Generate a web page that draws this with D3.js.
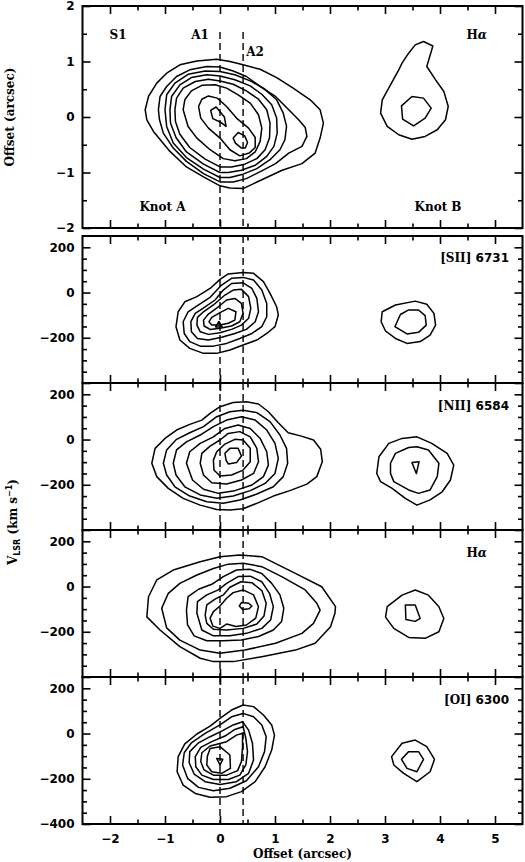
<!DOCTYPE html>
<html>
<head>
<meta charset="utf-8">
<script src="https://cdn.jsdelivr.net/npm/d3@7"></script>
<style>
  html, body { margin: 0; padding: 0; background: #fff; }
  svg { display: block; }
  .tick text { font-family: 'DejaVu Sans', sans-serif; font-weight: bold; font-size: 12px; fill: #000; }
  .tick line { stroke: #000; stroke-width: 1.6; }
  .lbl { font-family: 'DejaVu Serif', serif; font-weight: bold; font-size: 12px; fill: #000; }
  .num { font-family: 'DejaVu Sans', sans-serif; }
</style>
</head>
<body>
<svg id="chart" width="525" height="862"></svg>
<script>
// slit positions A1 / A2 (arcsec)
const slitOffsets = [0, 0.42];

// tick values
const xMajor = [-2, -1, 0, 1, 2, 3, 4, 5];
const xMinor = [-1.5, -0.5, 0.5, 1.5, 2.5, 3.5, 4.5];
const offMajor = [-2, -1, 0, 1, 2];
const offMinor = [-1.5, -0.5, 0.5, 1.5];
const velMajor = [-400, -200, 0, 200];
const velMinor = [-350, -300, -250, -150, -100, -50, 50, 100, 150];

// H-alpha image, offset vs offset (arcsec)
const haImageKnotA = [
  [[-1.36,0.13],[-1.30,0.37],[-1.15,0.61],[-0.97,0.79],[-0.73,0.94],[-0.42,1.01],[-0.06,1.04],[0.18,1.00],[0.42,0.94],[0.73,0.86],[1.03,0.71],[1.33,0.52],[1.64,0.31],[1.82,0.13],[1.88,-0.11],[1.82,-0.38],[1.73,-0.65],[1.49,-0.84],[1.13,-0.96],[0.76,-1.13],[0.42,-1.29],[0.18,-1.28],[0.00,-1.24],[-0.30,-1.08],[-0.61,-0.90],[-0.91,-0.62],[-1.21,-0.26],[-1.33,-0.05]],
  [[-1.12,0.13],[-1.09,0.37],[-0.97,0.55],[-0.79,0.73],[-0.55,0.85],[-0.24,0.91],[0.00,0.90],[0.24,0.83],[0.48,0.73],[0.76,0.53],[1.01,0.37],[1.25,0.13],[1.43,-0.05],[1.55,-0.19],[1.58,-0.35],[1.49,-0.53],[1.25,-0.65],[1.01,-0.84],[0.76,-0.97],[0.48,-1.11],[0.24,-1.17],[0.00,-1.17],[-0.30,-1.02],[-0.61,-0.80],[-0.85,-0.56],[-1.03,-0.29],[-1.10,-0.05]],
  [[-1.00,0.13],[-0.97,0.40],[-0.82,0.61],[-0.58,0.77],[-0.27,0.83],[0.00,0.82],[0.27,0.76],[0.55,0.65],[0.79,0.52],[1.03,0.31],[1.15,0.07],[1.21,-0.17],[1.18,-0.41],[1.09,-0.59],[0.91,-0.77],[0.67,-0.93],[0.42,-1.03],[0.18,-1.09],[0.00,-1.09],[-0.30,-0.94],[-0.61,-0.73],[-0.85,-0.47],[-0.97,-0.17]],
  [[-0.91,0.13],[-0.88,0.37],[-0.73,0.58],[-0.52,0.71],[-0.24,0.76],[0.00,0.74],[0.27,0.67],[0.55,0.56],[0.76,0.41],[0.94,0.22],[1.03,-0.02],[1.04,-0.29],[0.98,-0.53],[0.85,-0.71],[0.64,-0.87],[0.39,-0.96],[0.15,-1.00],[0.00,-1.00],[-0.30,-0.85],[-0.61,-0.63],[-0.80,-0.37],[-0.90,-0.11]],
  [[-0.82,0.13],[-0.79,0.34],[-0.67,0.52],[-0.45,0.64],[-0.21,0.68],[0.00,0.65],[0.24,0.59],[0.48,0.47],[0.70,0.32],[0.85,0.13],[0.91,-0.11],[0.90,-0.38],[0.82,-0.59],[0.67,-0.75],[0.45,-0.85],[0.21,-0.90],[0.00,-0.90],[-0.27,-0.76],[-0.55,-0.55],[-0.73,-0.31],[-0.81,-0.08]],
  [[-0.67,0.13],[-0.64,0.31],[-0.52,0.47],[-0.33,0.57],[-0.09,0.58],[0.12,0.52],[0.33,0.40],[0.55,0.25],[0.70,0.04],[0.76,-0.20],[0.73,-0.44],[0.64,-0.63],[0.48,-0.75],[0.27,-0.79],[0.06,-0.75],[-0.18,-0.59],[-0.42,-0.38],[-0.58,-0.17]],
  [[-0.39,0.19],[-0.33,0.32],[-0.21,0.38],[-0.05,0.34],[0.12,0.19],[0.30,-0.02],[0.52,-0.20],[0.64,-0.37],[0.64,-0.55],[0.53,-0.65],[0.36,-0.70],[0.18,-0.59],[0.00,-0.38],[-0.21,-0.20],[-0.35,-0.02]],
  [[-0.17,0.12],[-0.07,0.18],[0.08,0.00],[0.11,-0.17],[0.02,-0.10],[-0.13,-0.03]],
  [[0.24,-0.38],[0.33,-0.28],[0.45,-0.34],[0.50,-0.46],[0.46,-0.56],[0.39,-0.56],[0.28,-0.47]]
];
const haImageKnotB = [
  [[3.70,1.36],[3.87,1.28],[3.76,0.91],[3.92,0.67],[4.07,0.46],[4.15,0.19],[4.10,-0.05],[3.95,-0.23],[3.73,-0.35],[3.49,-0.40],[3.25,-0.32],[3.04,-0.17],[2.92,0.07],[2.95,0.31],[3.10,0.58],[3.25,0.85],[3.31,0.97],[3.43,1.15],[3.55,1.30]],
  [[3.49,0.37],[3.70,0.34],[3.84,0.16],[3.73,-0.02],[3.52,-0.16],[3.32,-0.04],[3.30,0.20]]
];

// position-velocity diagrams: offset (arcsec), V_LSR (km/s)
const siiKnotA = [
  [[0.00,58],[0.15,82],[0.42,89],[0.61,85],[0.79,48],[0.91,-4],[1.03,-63],[1.06,-99],[1.00,-151],[0.85,-181],[0.67,-210],[0.42,-232],[0.18,-254],[-0.06,-269],[-0.30,-269],[-0.55,-247],[-0.73,-210],[-0.80,-151],[-0.76,-85],[-0.64,-41],[-0.42,-18],[-0.18,18]],
  [[0.03,33],[0.21,63],[0.42,67],[0.61,55],[0.76,11],[0.85,-48],[0.85,-107],[0.76,-151],[0.58,-181],[0.36,-203],[0.12,-225],[-0.12,-237],[-0.36,-237],[-0.55,-217],[-0.65,-181],[-0.67,-129],[-0.58,-85],[-0.39,-55],[-0.18,-21]],
  [[0.06,11],[0.21,40],[0.42,43],[0.58,18],[0.67,-26],[0.70,-85],[0.64,-129],[0.48,-163],[0.27,-181],[0.03,-198],[-0.21,-210],[-0.41,-203],[-0.52,-173],[-0.53,-129],[-0.45,-92],[-0.27,-63],[-0.09,-33]],
  [[0.09,-11],[0.24,11],[0.39,14],[0.52,-18],[0.56,-70],[0.52,-114],[0.39,-144],[0.21,-163],[0.00,-178],[-0.21,-185],[-0.36,-173],[-0.42,-144],[-0.41,-110],[-0.30,-85],[-0.12,-55]],
  [[0.12,-33],[0.27,-26],[0.39,-48],[0.42,-92],[0.36,-129],[0.21,-148],[0.00,-158],[-0.18,-163],[-0.29,-148],[-0.30,-122],[-0.21,-95],[-0.03,-63]],
  [[0.15,-70],[0.29,-85],[0.27,-122],[0.15,-136],[0.00,-144],[-0.15,-144],[-0.20,-129],[-0.15,-110],[0.00,-89]],
  [[-0.02,-128],[0.04,-152],[-0.08,-152]]
];
const siiKnotB = [
  [[2.95,-85],[3.19,-55],[3.55,-38],[3.76,-52],[3.89,-92],[3.92,-144],[3.82,-188],[3.64,-217],[3.40,-225],[3.19,-203],[3.01,-170],[2.93,-129]],
  [[3.28,-97],[3.43,-77],[3.61,-77],[3.73,-102],[3.75,-144],[3.61,-176],[3.40,-183],[3.18,-151]]
];

const niiKnotA = [
  [[-1.24,-105],[-1.18,-39],[-1.00,5],[-0.79,42],[-0.55,67],[-0.33,86],[-0.18,116],[0.00,145],[0.24,164],[0.48,167],[0.70,157],[0.88,123],[1.06,74],[1.24,30],[1.48,15],[1.70,-2],[1.83,-43],[1.86,-98],[1.76,-164],[1.58,-197],[1.27,-226],[0.97,-250],[0.67,-282],[0.42,-306],[0.18,-312],[-0.06,-309],[-0.36,-290],[-0.67,-260],[-0.94,-216],[-1.15,-164]],
  [[-1.03,-105],[-0.97,-46],[-0.79,1],[-0.55,30],[-0.30,57],[-0.06,101],[0.18,123],[0.42,130],[0.67,119],[0.91,79],[1.09,20],[1.21,-39],[1.23,-105],[1.15,-164],[0.97,-209],[0.67,-241],[0.36,-267],[0.06,-282],[-0.24,-275],[-0.55,-250],[-0.82,-209],[-0.97,-157]],
  [[-0.85,-105],[-0.79,-46],[-0.61,-10],[-0.36,20],[-0.12,57],[0.12,86],[0.39,101],[0.64,86],[0.85,42],[1.00,-17],[1.06,-83],[1.00,-150],[0.82,-194],[0.55,-226],[0.24,-250],[-0.06,-260],[-0.36,-245],[-0.64,-209],[-0.80,-157]],
  [[-0.61,-105],[-0.55,-54],[-0.36,-17],[-0.12,12],[0.09,49],[0.33,64],[0.55,49],[0.73,5],[0.85,-54],[0.88,-113],[0.79,-164],[0.58,-201],[0.27,-226],[-0.03,-238],[-0.30,-220],[-0.50,-179]],
  [[-0.36,-105],[-0.33,-61],[-0.18,-29],[0.00,-2],[0.15,27],[0.36,35],[0.55,12],[0.67,-39],[0.70,-98],[0.61,-150],[0.39,-179],[0.12,-197],[-0.15,-191],[-0.30,-157]],
  [[-0.12,-91],[-0.06,-54],[0.09,-20],[0.27,1],[0.42,-2],[0.55,-39],[0.55,-98],[0.42,-135],[0.21,-157],[0.00,-161],[-0.11,-135]],
  [[0.09,-61],[0.18,-39],[0.33,-39],[0.39,-73],[0.30,-102],[0.15,-108],[0.11,-91]]
];
const niiKnotB = [
  [[2.85,-150],[2.89,-76],[3.07,-17],[3.31,5],[3.58,12],[3.85,-17],[4.13,-61],[4.25,-113],[4.19,-179],[4.04,-231],[3.82,-267],[3.58,-290],[3.37,-260],[3.13,-216],[2.92,-186]],
  [[3.10,-105],[3.19,-61],[3.43,-35],[3.58,-32],[3.79,-46],[3.98,-105],[3.95,-164],[3.82,-223],[3.61,-238],[3.43,-223],[3.16,-186],[3.10,-150]],
  [[3.49,-102],[3.62,-98],[3.57,-150]]
];

const haKnotA = [
  [[-1.33,-134],[-1.30,-45],[-1.15,29],[-0.85,73],[-0.36,110],[0.00,132],[0.36,139],[0.76,132],[1.37,58],[1.85,-1],[2.10,-89],[2.09,-118],[2.01,-178],[1.73,-251],[1.37,-281],[0.76,-310],[0.24,-332],[-0.12,-332],[-0.36,-317],[-0.73,-266],[-1.09,-192]],
  [[-1.06,-96],[-0.94,-30],[-0.73,14],[-0.42,51],[-0.12,80],[0.15,99],[0.42,103],[0.76,88],[1.13,43],[1.55,-15],[1.76,-74],[1.82,-104],[1.70,-163],[1.49,-207],[1.01,-251],[0.45,-281],[0.00,-295],[-0.36,-281],[-0.73,-237],[-0.97,-183]],
  [[-0.61,-104],[-0.58,-45],[-0.39,-12],[-0.15,10],[0.06,44],[0.30,73],[0.55,76],[0.76,58],[0.94,14],[1.09,-37],[1.16,-96],[1.12,-155],[0.97,-192],[0.70,-221],[0.39,-236],[0.06,-240],[-0.24,-240],[-0.47,-218],[-0.59,-170]],
  [[-0.42,-118],[-0.41,-67],[-0.24,-37],[-0.03,-15],[0.12,14],[0.33,44],[0.55,46],[0.76,21],[0.90,-30],[0.97,-89],[0.92,-148],[0.76,-185],[0.48,-207],[0.18,-218],[-0.12,-218],[-0.33,-192]],
  [[-0.27,-126],[-0.24,-81],[-0.09,-56],[0.06,-37],[0.18,-3],[0.38,21],[0.58,17],[0.76,-18],[0.84,-74],[0.80,-130],[0.67,-166],[0.42,-185],[0.12,-192],[-0.12,-189],[-0.24,-163]],
  [[-0.18,-140],[-0.12,-111],[0.00,-86],[0.12,-52],[0.24,-27],[0.42,-15],[0.61,-37],[0.70,-89],[0.65,-140],[0.48,-170],[0.29,-177],[0.12,-166],[0.00,-185],[-0.13,-175]],
  [[0.35,-86],[0.39,-71],[0.52,-74],[0.58,-86],[0.53,-98],[0.41,-101]]
];
const haKnotB = [
  [[3.04,-89],[3.31,-38],[3.55,-15],[3.79,-38],[3.98,-89],[4.07,-141],[3.98,-200],[3.73,-229],[3.43,-225],[3.16,-185],[3.01,-135]],
  [[3.37,-82],[3.55,-82],[3.64,-141],[3.55,-154],[3.38,-146]]
];

const oiKnotA = [
  [[0.00,67],[0.21,104],[0.42,126],[0.61,119],[0.79,82],[0.94,38],[0.99,-7],[0.94,-73],[0.82,-147],[0.64,-213],[0.39,-257],[0.12,-279],[-0.18,-282],[-0.45,-265],[-0.67,-228],[-0.78,-169],[-0.76,-102],[-0.64,-46],[-0.42,-2],[-0.18,33]],
  [[0.00,38],[0.21,74],[0.42,89],[0.61,74],[0.76,38],[0.84,-14],[0.81,-80],[0.70,-147],[0.48,-209],[0.18,-242],[-0.12,-253],[-0.39,-238],[-0.59,-198],[-0.68,-139],[-0.65,-85],[-0.52,-41],[-0.27,1]],
  [[0.03,11],[0.24,38],[0.41,52],[0.52,15],[0.59,-43],[0.61,-117],[0.52,-176],[0.30,-213],[0.00,-225],[-0.27,-213],[-0.47,-179],[-0.56,-129],[-0.55,-80],[-0.39,-41],[-0.18,-14]],
  [[0.09,-11],[0.27,18],[0.42,30],[0.47,-21],[0.50,-80],[0.47,-139],[0.36,-184],[0.15,-203],[-0.12,-203],[-0.33,-184],[-0.44,-147],[-0.45,-102],[-0.35,-61],[-0.15,-36]],
  [[0.12,-36],[0.30,-7],[0.41,1],[0.41,-58],[0.39,-124],[0.32,-164],[0.12,-184],[-0.12,-184],[-0.29,-161],[-0.35,-124],[-0.33,-85],[-0.18,-55]],
  [[-0.18,-66],[0.00,-58],[0.18,-95],[0.19,-154],[0.03,-176],[-0.15,-169],[-0.24,-139],[-0.23,-100]],
  [[-0.06,-110],[0.05,-114],[0.00,-139]]
];
const oiKnotB = [
  [[3.12,-102],[3.31,-43],[3.55,-29],[3.76,-58],[3.90,-114],[3.82,-169],[3.58,-213],[3.34,-176],[3.16,-139]],
  [[3.30,-114],[3.43,-80],[3.61,-80],[3.70,-114],[3.58,-169],[3.40,-154]]
];

const velLines = ['[SII]|6731', '[NII]|6584', 'Hα', '[OI]|6300'];
const velContours = [
  siiKnotA.concat(siiKnotB),
  niiKnotA.concat(niiKnotB),
  haKnotA.concat(haKnotB),
  oiKnotA.concat(oiKnotB)
];

// ---- layout ----
const svg = d3.select('#chart');
const left = 82.5, right = 522.5;
const x = d3.scaleLinear().domain([-2.5, 5.5]).range([left, right]);
const fmt = d3.format('d');

function drawFrame(y, y0, y1, major, minor, yLabels, xLabels) {
    const g = svg.append('g');

    g.append('g').attr('transform', `translate(${left},0)`)
        .call(d3.axisLeft(y).tickValues(major).tickSize(-8).tickPadding(8)
            .tickFormat(d => yLabels.includes(d) ? fmt(d) : ''));
    g.append('g').attr('transform', `translate(${left},0)`)
        .call(d3.axisLeft(y).tickValues(minor).tickSize(-4.5).tickFormat(''));
    g.append('g').attr('transform', `translate(${right},0)`)
        .call(d3.axisRight(y).tickValues(major).tickSize(-8).tickFormat(''));
    g.append('g').attr('transform', `translate(${right},0)`)
        .call(d3.axisRight(y).tickValues(minor).tickSize(-4.5).tickFormat(''));

    g.append('g').attr('transform', `translate(0,${y0})`)
        .call(d3.axisTop(x).tickValues(xMajor).tickSize(-8).tickFormat(''));
    g.append('g').attr('transform', `translate(0,${y0})`)
        .call(d3.axisTop(x).tickValues(xMinor).tickSize(-4.5).tickFormat(''));
    g.append('g').attr('transform', `translate(0,${y1})`)
        .call(d3.axisBottom(x).tickValues(xMajor).tickSize(-8).tickPadding(10)
            .tickFormat(d => xLabels ? fmt(d) : ''));
    g.append('g').attr('transform', `translate(0,${y1})`)
        .call(d3.axisBottom(x).tickValues(xMinor).tickSize(-4.5).tickFormat(''));

    g.selectAll('.domain').remove();

    g.append('rect')
        .attr('x', left).attr('y', y0)
        .attr('width', right - left).attr('height', y1 - y0)
        .attr('fill', 'none').attr('stroke', '#000').attr('stroke-width', 2);
    return g;
}

function drawContours(y, sets) {
    const line = d3.line()
        .x(d => x(d[0]))
        .y(d => y(d[1]))
        .curve(d3.curveLinearClosed);
    svg.append('g')
        .selectAll('path')
        .data(sets)
        .join('path')
        .attr('d', line)
        .attr('fill', 'none')
        .attr('stroke', '#000')
        .attr('stroke-width', 1.5)
        .attr('stroke-linejoin', 'round');
}

function drawSlits(y, yTop, yBottom) {
    svg.append('g')
        .selectAll('line')
        .data(slitOffsets)
        .join('line')
        .attr('x1', d => x(d)).attr('x2', d => x(d))
        .attr('y1', y(yTop)).attr('y2', y(yBottom))
        .attr('stroke', '#000')
        .attr('stroke-width', 1.4)
        .attr('stroke-dasharray', '7,4');
}

function label(xv, yv, anchor, parts) {
    const t = svg.append('text')
        .attr('class', 'lbl')
        .attr('x', xv).attr('y', yv)
        .attr('text-anchor', anchor);
    parts.forEach(p => {
        const s = t.append('tspan').text(p.t);
        if (p.italic) s.attr('font-style', 'italic');
        if (p.num) s.attr('class', 'num');
    });
    return t;
}

function lineLabel(str, xv, yv) {
    if (str === 'Hα') {
        return label(xv, yv, 'end', [{t: 'H'}, {t: 'α', italic: true}]);
    }
    const [ion, wav] = str.split('|');
    return label(xv, yv, 'end', [{t: ion + ' '}, {t: wav, num: true}]);
}

// ---- top panel: Halpha image ----
const yTop = d3.scaleLinear().domain([-2, 2]).range([228, 6]);
drawContours(yTop, haImageKnotA.concat(haImageKnotB));
drawSlits(yTop, 1.53, -2);
drawFrame(yTop, 6, 228, offMajor, offMinor, offMajor, false);

label(118, 39, 'middle', [{t: 'S1'}]);
label(200, 39, 'middle', [{t: 'A1'}]);
label(255, 56, 'middle', [{t: 'A2'}]);
label(162.5, 210.5, 'middle', [{t: 'Knot A'}]);
label(438, 210.5, 'middle', [{t: 'Knot B'}]);
label(487, 39, 'end', [{t: 'H'}, {t: 'α', italic: true}]);

svg.append('text')
    .attr('class', 'lbl')
    .attr('transform', 'translate(14,117) rotate(-90)')
    .attr('text-anchor', 'middle')
    .text('Offset (arcsec)');

// ---- position-velocity panels ----
const velTop = 236, velH = 147;
const labelBase = [262, 410, 557, 704];
velContours.forEach((sets, i) => {
    const y0 = velTop + i * velH, y1 = y0 + velH;
    const y = d3.scaleLinear().domain([-400, 250]).range([y1, y0]);
    const last = i === velContours.length - 1;
    drawContours(y, sets);
    drawSlits(y, 250, -400);
    drawFrame(y, y0, y1, velMajor, velMinor, last ? velMajor : velMajor.filter(v => v > -400), last);
    lineLabel(velLines[i], velLines[i] === 'Hα' ? 487 : 509, labelBase[i]);
});

const vt = svg.append('text')
    .attr('class', 'lbl')
    .attr('transform', 'translate(17,522) rotate(-90)')
    .attr('text-anchor', 'middle');
vt.append('tspan').text('V');
vt.append('tspan').attr('class', 'num').attr('font-size', 8).attr('dy', 3).text('LSR');
vt.append('tspan').attr('dy', -3).text(' (km s');
vt.append('tspan').attr('class', 'num').attr('font-size', 8).attr('dy', -5).text('−1');
vt.append('tspan').attr('dy', 5).text(')');

svg.append('text')
    .attr('class', 'lbl')
    .attr('x', (left + right) / 2).attr('y', 858)
    .attr('text-anchor', 'middle')
    .text('Offset (arcsec)');
</script>
</body>
</html>
